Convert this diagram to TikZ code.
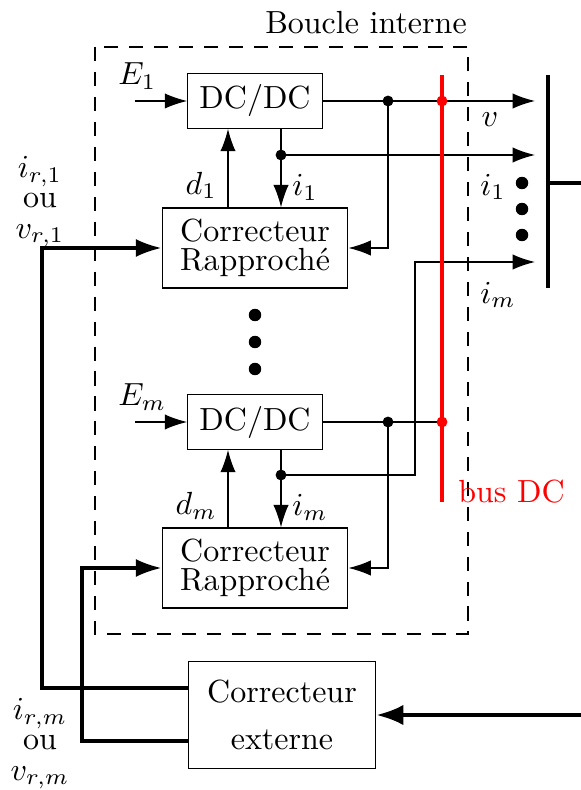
\documentclass[tikz,border=0pt]{standalone}
\usepackage{amsmath}
\usepackage{tikz}
\usetikzlibrary{arrows.meta, calc}

\begin{document}
\begin{tikzpicture}[x=0.3125pt, y=-0.3125pt, >={Latex[length=7pt,width=4.8pt]},
    bloc/.style={draw, minimum width=42pt, minimum height=17pt},
    correc/.style={draw, align=center, minimum width=58pt, minimum height=25pt,
        font=\fontsize{10}{9}\selectfont},
    externe/.style={draw, align=center, minimum width=58.5pt, minimum height=33.5pt,
        font=\fontsize{10}{14.7}\selectfont},
    consigne/.style={align=center, font=\fontsize{10}{9.4}\selectfont},
    fort/.style={line width=1pt, >={Latex[length=8pt,width=5.6pt]}},
    bus/.style={red, line width=1.3pt}]

    \useasboundingbox (0,0) rectangle (581,790);

    % Boucle interne
    \draw[dash pattern=on 4.4pt off 3.4pt] (95,47) rectangle (468,634);
    \node (titre) at (366,23) {Boucle interne};

    \coordinate (xd) at (228,0);

    % Module 1
    \node[bloc] (dc1) at (255,101) {DC/DC};
    \node[correc] (cr1) at (255,248) {Correcteur\\Rapproché};
    \coordinate (e1) at (135,101);
    \node[anchor=south west] (le1) at (107,101) {$E_1$};
    \draw[->] (e1) -- (dc1);
    \draw[->] (cr1.north -| xd) -- (dc1.south -| xd) node[pos=0.28, left] (ld1) {$d_1$};
    \coordinate (j1) at (281,155);
    \draw (dc1.south -| j1) -- (j1);
    \draw[->] (j1) -- (cr1.north -| j1) node[pos=0.62, right] (li1) {$i_1$};
    \coordinate (k1) at (388,101);
    \coordinate (b1) at (442,101);
    \coordinate (o1) at (535,101);
    \coordinate (o2) at (535,155);
    \draw[->] (dc1.east) -- (o1);
    \draw[->] (k1) |- (cr1.east);
    \draw[->] (j1) -- (o2);

    % Module m
    \node[bloc] (dcm) at (255,422) {DC/DC};
    \node[correc] (crm) at (255,568) {Correcteur\\Rapproché};
    \coordinate (em) at (135,422);
    \node[anchor=south west] (lem) at (107,422) {$E_m$};
    \draw[->] (em) -- (dcm);
    \draw[->] (crm.north -| xd) -- (dcm.south -| xd) node[pos=0.28, left] (ldm) {$d_m$};
    \coordinate (jm) at (281,475);
    \draw (dcm.south -| jm) -- (jm);
    \draw[->] (jm) -- (crm.north -| jm) node[pos=0.62, right] (lim) {$i_m$};
    \coordinate (km) at (388,422);
    \coordinate (bm) at (442,422);
    \coordinate (qm) at (415,262);
    \coordinate (o3) at (535,262);
    \draw (dcm.east) -- (bm);
    \draw[->] (km) |- (crm.east);
    \draw[->] (jm) -| (qm) -- (o3);

    % points de jonction
    \foreach \p in {j1,k1,jm,km}
        \fill (\p) circle (1.7pt);
    \foreach \y in {315,342,369}
        \fill (255,\y) circle (1.95pt);

    % bus DC
    \coordinate (bh) at (442,75);
    \coordinate (bb) at (442,502);
    \draw[bus] (bh) -- (bb);
    \fill[red] (b1) circle (1.7pt);
    \fill[red] (bm) circle (1.7pt);
    \node[text=red, anchor=west] (lbus) at (447,492) {bus DC};

    % sorties
    \node (lv) at (490,120) {$v$};
    \node (lo2) at (493,187) {$i_1$};
    \node (lo3) at (498,295) {$i_m$};
    \coordinate (rh) at (548,75);
    \coordinate (rb) at (548,288);
    \coordinate (rm) at (548,183);
    \coordinate (rs) at (581,183);
    \draw[line width=1.3pt] (rh) -- (rb);
    \draw[line width=1.3pt] (rm) -- (rs);
    \foreach \y in {183,209,235}
        \fill (522,\y) circle (1.95pt);

    % Correcteur externe
    \node[externe] (ext) at (282,715) {Correcteur\\externe};
    \node[consigne] (cons1) at (40,202) {$i_{r,1}$\\ou\\$v_{r,1}$};
    \node[consigne] (consm) at (40,744) {$i_{r,m}$\\ou\\$v_{r,m}$};
    \coordinate (g1) at (42,688);
    \coordinate (g2) at (82,741);
    \draw[fort, ->] (ext.west |- g1) -| (cr1.west -| g1) -- (cr1.west);
    \draw[fort, ->] (ext.west |- g2) -| (crm.west -| g2) -- (crm.west);
    \coordinate (ent) at (581,715);
    \draw[line width=1.25pt, ->, >={Latex[length=8.5pt,width=6.4pt]}] (ent) -- (ext.east);
\end{tikzpicture}
\end{document}
